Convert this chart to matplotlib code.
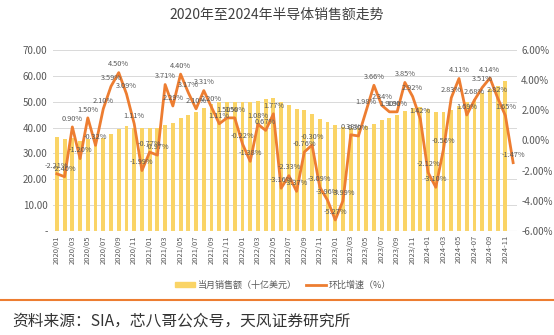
import matplotlib
matplotlib.use("Agg")
import matplotlib.pyplot as plt
import numpy as np
from matplotlib.lines import Line2D
from matplotlib.patches import Patch

plt.rcParams['font.family'] = ['Noto Sans CJK SC', 'DejaVu Sans']

months = [f"{y}/{m:02d}" for y in range(2020, 2025) for m in range(1, 13)]
tick_labels = ["2020/01", "2020/03", "2020/05", "2020/07", "2020/09", "2020/11",
               "2021/01", "2021/03", "2021/05", "2021/07", "2021/09", "2021/11",
               "2022/01", "2022/03", "2022/05", "2022/07", "2022/09", "2022/11",
               "2023/01", "2023/03", "2023/05", "2023/07", "2023/09", "2023/11",
               "2024-01", "2024-03", "2024-05", "2024-07", "2024-09", "2024-11"]

sales = [36.2, 35.4, 35.8, 35.0, 35.7, 35.8, 36.1, 37.4, 39.3, 40.6, 40.0, 40.0,
         39.7, 39.7, 40.9, 41.9, 43.7, 45.0, 46.2, 47.7, 49.0, 49.9, 50.0, 50.0,
         50.0, 49.7, 50.3, 51.0, 51.6, 49.7, 48.8, 47.1, 46.7, 45.1, 43.5, 42.3,
         41.0, 40.3, 40.0, 40.0, 40.6, 41.2, 42.9, 43.8, 44.7, 46.4, 47.7, 48.1,
         47.1, 46.2, 46.0, 46.7, 48.4, 49.7, 51.0, 53.5, 55.0, 56.1, 58.1, np.nan]

mom = [-2.21, -2.40, 0.90, -1.20, 1.50, -0.32, 2.10, 3.59, 4.50, 3.09, 1.11, -1.99,
       -0.77, -0.97, 3.71, 2.29, 4.40, 3.17, 2.10, 3.31, 2.20, 1.11, 1.50, 1.50,
       -0.22, -1.38, 1.08, 0.67, 1.77, -3.16, -2.33, -3.37, -0.76, -0.30, -3.09, -3.96,
       -5.27, -3.99, 0.38, 0.30, 1.98, 3.66, 2.34, 1.90, 1.90, 3.85, 2.92, 1.42,
       -2.12, -3.10, -0.56, 2.83, 4.11, 1.69, 2.68, 3.51, 4.14, 2.82, 1.65, -1.47]

left_ticks = [0, 10, 20, 30, 40, 50, 60, 70]
right_ticks = [-6, -4, -2, 0, 2, 4, 6]

title = "2020年至2024年半导体销售额走势"
bar_name = "当月销售额（十亿美元）"
line_name = "环比增速（%）"
source = "资料来源：SIA，芯八哥公众号，天风证券研究所"

BAR_C = "#FAD466"
LINE_C = "#ED7D31"
TXT_C = "#595959"

fig = plt.figure(figsize=(5.54, 3.35), dpi=100)
ax = fig.add_axes([53/554, 1-231/335, (517-53)/554, (231-50)/335])
x = np.arange(len(months))
ax.bar(x, sales, width=0.5, color=BAR_C, zorder=2)
ax.set_ylim(0, 70)
ax.set_xlim(-0.5, len(months)-0.5)
ax.set_yticks(left_ticks)
ax.set_yticklabels(["-" if v == 0 else f"{v:.2f}" for v in left_ticks])
ax.grid(axis='y', color="#D9D9D9", linewidth=0.7, zorder=0)
ax.set_axisbelow(True)
for s in ax.spines.values():
    s.set_visible(False)
ax.axhline(0, color="#D9D9D9", linewidth=0.8)
tick_pos = [months.index(t.replace("-", "/")) for t in tick_labels]
ax.set_xticks(tick_pos)
ax.set_xticklabels(tick_labels, rotation=90, fontsize=5.5, color=TXT_C)
ax.tick_params(axis='x', length=0, pad=3)
ax.tick_params(axis='y', length=0, labelsize=7, labelcolor=TXT_C, pad=4)

ax2 = ax.twinx()
ax2.plot(x, mom, color=LINE_C, linewidth=2.0, zorder=3)
ax2.set_ylim(-6, 6)
ax2.set_yticks(right_ticks)
ax2.set_yticklabels([f"{v:.2f}%" for v in right_ticks])
ax2.tick_params(axis='y', length=0, labelsize=7, labelcolor=TXT_C, pad=3)
for s in ax2.spines.values():
    s.set_visible(False)
for xi, v in zip(x, mom):
    ax2.annotate(f"{v:.2f}%", (xi, v), xytext=(0, 3), textcoords='offset points',
                 ha='center', va='bottom', fontsize=5.3, color=TXT_C, zorder=4)

fig.text(0.5, 1-15/335, title, ha='center', va='center', fontsize=10,
         color="#404040", fontweight='medium')

handles = [Patch(color=BAR_C, label=bar_name),
           Line2D([0], [0], color=LINE_C, linewidth=2, label=line_name)]
fig.legend(handles=handles, loc='center', bbox_to_anchor=(283/554, 1-285/335), ncol=2,
           frameon=False, fontsize=6.5, labelcolor=TXT_C, handlelength=2.2,
           handleheight=0.5, columnspacing=1.0, handletextpad=0.3)

fig.add_artist(Line2D([0, 1], [1-300/335, 1-300/335], color=LINE_C, linewidth=1.5,
                      transform=fig.transFigure))
fig.text(12/554, 1-321/335, source, ha='left', va='center', fontsize=11.3, color="#333333")

fig.savefig("out.png", dpi=100)
